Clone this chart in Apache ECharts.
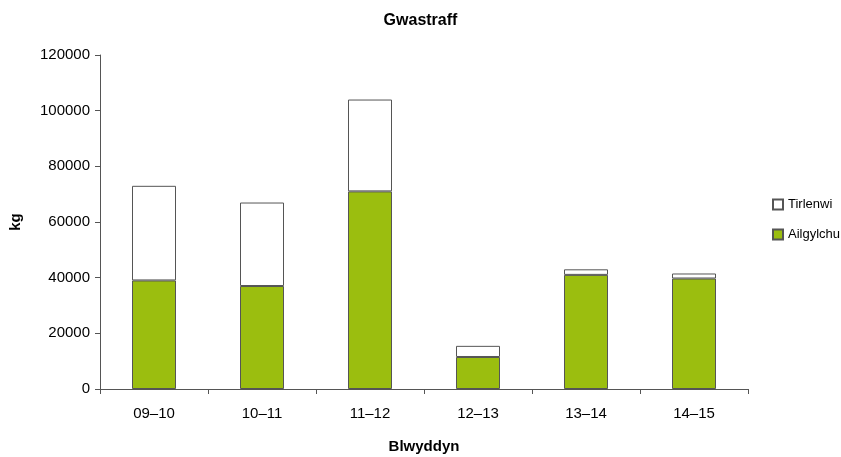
<!DOCTYPE html>
<html>
<head>
<meta charset="utf-8">
<script src="https://cdn.jsdelivr.net/npm/echarts@6/dist/echarts.min.js"></script>
<style>
  html, body { margin: 0; padding: 0; background: #fff; }
  #chart { width: 841px; height: 457px; }
</style>
</head>
<body>
<div id="chart"></div>
<script>
// blynyddoedd
var years = ['09–10', '10–11', '11–12', '12–13', '13–14', '14–15'];
// kg wedi ailgylchu
var ailgylchu = [39000, 37000, 71000, 11500, 41000, 39700];
// kg i dirlenwi (ar ben ailgylchu)
var tirlenwi = [34000, 30000, 33000, 4000, 2000, 1800];

var chart = echarts.init(document.getElementById('chart'));
var font = 'Liberation Sans, Arial, sans-serif';

var option = {
  animation: false,
  title: {
    text: 'Gwastraff',
    left: 'center',
    top: 8,
    textStyle: { fontFamily: font, fontSize: 16, fontWeight: 'bold', color: '#000' }
  },
  legend: {
    orient: 'vertical',
    left: 767,
    top: 193,
    icon: 'rect',
    itemWidth: 10,
    itemHeight: 10,
    itemGap: 17,
    data: ['Tirlenwi', 'Ailgylchu'],
    textStyle: { fontFamily: font, fontSize: 13, color: '#000' }
  },
  grid: { left: 100, right: 93, top: 55, bottom: 68, containLabel: false, outerBoundsMode: 'none' },
  xAxis: {
    type: 'category',
    data: years,
    name: 'Blwyddyn',
    nameLocation: 'middle',
    nameGap: 50,
    nameTextStyle: { fontFamily: font, fontSize: 15, fontWeight: 'bold', color: '#000' },
    axisLine: { lineStyle: { color: '#555' } },
    axisTick: { show: true, alignWithLabel: false, length: 5, lineStyle: { color: '#555' } },
    axisLabel: { fontFamily: font, fontSize: 15, color: '#000', margin: 17 }
  },
  yAxis: {
    type: 'value',
    min: 0,
    max: 120000,
    interval: 20000,
    name: 'kg',
    nameLocation: 'middle',
    nameGap: 77,
    nameTextStyle: { fontFamily: font, fontSize: 15, fontWeight: 'bold', color: '#000' },
    axisLine: { show: true, lineStyle: { color: '#555' } },
    axisTick: { show: true, length: 5, lineStyle: { color: '#555' } },
    splitLine: { show: false },
    axisLabel: {
      fontFamily: font, fontSize: 15, color: '#000', margin: 10,
      formatter: function (v) { return String(v); }
    }
  },
  series: [
    {
      name: 'Ailgylchu',
      type: 'bar',
      stack: 'total',
      barWidth: 44,
      data: ailgylchu,
      itemStyle: { color: '#9bbe0f', borderColor: '#555', borderWidth: 1 }
    },
    {
      name: 'Tirlenwi',
      type: 'bar',
      stack: 'total',
      barWidth: 44,
      data: tirlenwi,
      itemStyle: { color: '#fff', borderColor: '#555', borderWidth: 1 }
    }
  ]
};
option && chart.setOption(option);
</script>
</body>
</html>
